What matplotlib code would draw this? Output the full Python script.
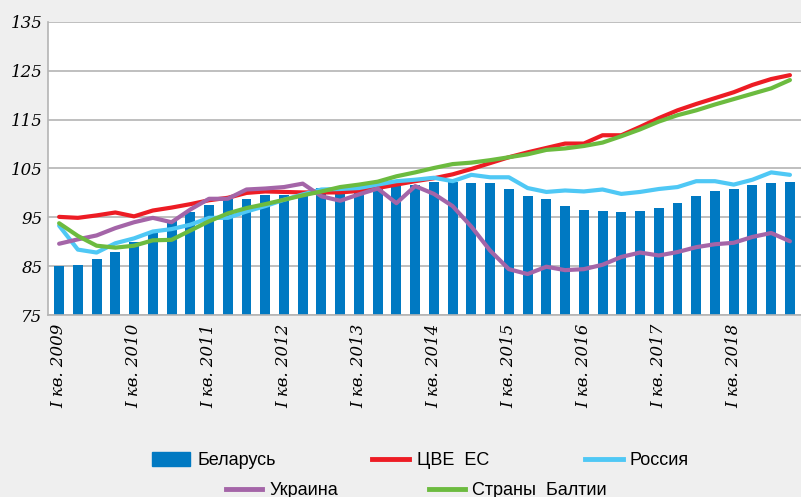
import numpy as np
import matplotlib.pyplot as plt
from matplotlib.patches import Patch
from matplotlib.lines import Line2D

years = list(range(2009, 2019))
quarters = [f"{y}Q{q}" for y in years for q in range(1, 5)]
tick_labels = [f"I кв. {y}" for y in years]

belarus = [85.1, 85.3, 86.5, 87.9, 89.9, 91.8, 94.2, 96.0, 97.6, 98.8,
           98.8, 99.5, 99.5, 100.3, 101.0, 100.3, 101.0, 101.2, 101.4, 101.7,
           102.2, 102.2, 102.0, 102.0, 100.8, 99.3, 98.7, 97.3, 96.6, 96.2,
           96.0, 96.4, 97.0, 97.9, 99.3, 100.3, 100.9, 101.6, 102.0, 102.2]
cee_eu = [95.1, 94.9, 95.4, 96.0, 95.2, 96.4, 97.0, 97.7, 98.5, 99.0,
          100.0, 100.3, 100.2, 100.1, 100.1, 100.1, 100.4, 101.0, 101.7, 102.4,
          103.0, 103.8, 104.9, 106.1, 107.3, 108.3, 109.2, 110.1, 110.1, 111.8,
          111.8, 113.5, 115.3, 116.9, 118.2, 119.4, 120.6, 122.1, 123.3, 124.1]
russia = [93.3, 88.4, 87.8, 89.7, 90.7, 92.1, 92.6, 93.5, 94.9, 94.9,
          96.2, 97.3, 98.6, 99.7, 100.7, 100.8, 101.0, 101.7, 102.4, 102.7,
          103.1, 102.4, 103.7, 103.2, 103.2, 101.0, 100.2, 100.5, 100.3, 100.7,
          99.8, 100.2, 100.8, 101.2, 102.4, 102.4, 101.7, 102.7, 104.2, 103.7]
ukraine = [89.6, 90.5, 91.3, 92.8, 94.0, 94.9, 94.0, 96.6, 98.8, 98.8,
           100.7, 100.9, 101.2, 101.9, 99.3, 98.4, 99.7, 100.9, 97.9, 101.4,
           99.8, 97.3, 93.1, 88.2, 84.4, 83.4, 84.9, 84.2, 84.4, 85.3,
           86.9, 87.8, 87.2, 87.9, 88.9, 89.5, 89.8, 91.0, 91.8, 90.1]
baltics = [93.8, 91.2, 89.2, 88.8, 89.2, 90.3, 90.4, 92.3, 94.2, 95.8,
           96.9, 97.7, 98.6, 99.5, 100.3, 101.2, 101.7, 102.3, 103.4, 104.2,
           105.1, 105.9, 106.2, 106.7, 107.3, 107.9, 108.8, 109.1, 109.6, 110.3,
           111.6, 113.0, 114.6, 115.9, 116.9, 118.1, 119.2, 120.3, 121.4, 123.1]

c_bar = '#0079c2'
c_red = '#ed1c24'
c_blue = '#4fc8f5'
c_purple = '#a465a8'
c_green = '#6cbb3f'
bg = '#efefef'

fig = plt.figure(figsize=(8.01, 4.97), dpi=100, facecolor=bg)
ax = fig.add_axes([0.06, 0.366, 0.94, 0.59])
ax.set_facecolor('white')

x = np.arange(len(quarters))
ax.bar(x, belarus, width=0.53, bottom=0, color=c_bar, zorder=2)
lw = 3.0
ax.plot(x, cee_eu, color=c_red, lw=lw, zorder=3, solid_capstyle='round')
ax.plot(x, russia, color=c_blue, lw=lw, zorder=3, solid_capstyle='round')
ax.plot(x, ukraine, color=c_purple, lw=lw, zorder=3, solid_capstyle='round')
ax.plot(x, baltics, color=c_green, lw=lw, zorder=3, solid_capstyle='round')

ax.set_ylim(75, 135)
ax.set_xlim(-0.59, len(quarters) - 0.41)
ax.set_yticks(np.arange(75, 136, 10))
ax.grid(axis='y', color='#b4b4b4', lw=1.2, zorder=1)
ax.set_axisbelow(True)
for s in ['top', 'right']:
    ax.spines[s].set_visible(False)
for s in ['left', 'bottom']:
    ax.spines[s].set_color('#b4b4b4')
    ax.spines[s].set_linewidth(1.2)

ax.set_xticks(x[::4])
ax.set_xticklabels(tick_labels, rotation=90, family='DejaVu Serif',
                   style='italic', fontsize=12)
ax.tick_params(axis='both', length=0)
ax.tick_params(axis='x', pad=6)
ax.tick_params(axis='y', pad=4)
for t in ax.get_yticklabels():
    t.set_family('DejaVu Serif')
    t.set_style('italic')
    t.set_fontsize(12)

leg_font = {'family': ['Liberation Sans', 'DejaVu Sans'], 'size': 13}
h1 = [Patch(color=c_bar), Line2D([], [], color=c_red, lw=3.5),
      Line2D([], [], color=c_blue, lw=3.5)]
l1 = ['Беларусь', 'ЦВЕ  ЕС', 'Россия']
h2 = [Line2D([], [], color=c_purple, lw=3.5), Line2D([], [], color=c_green, lw=3.5)]
l2 = ['Украина', 'Страны  Балтии']
leg1 = fig.legend(h1, l1, loc='center', bbox_to_anchor=(0.525, 0.073), ncol=3,
                  frameon=False, prop=leg_font, handlelength=2.1, handleheight=0.8,
                  handletextpad=0.4, columnspacing=5.3)
leg2 = fig.legend(h2, l2, loc='center', bbox_to_anchor=(0.52, 0.013), ncol=2,
                  frameon=False, prop=leg_font, handlelength=2.0,
                  handletextpad=0.4, columnspacing=5.0)

fig.savefig('out.png', dpi=100, facecolor=bg)
